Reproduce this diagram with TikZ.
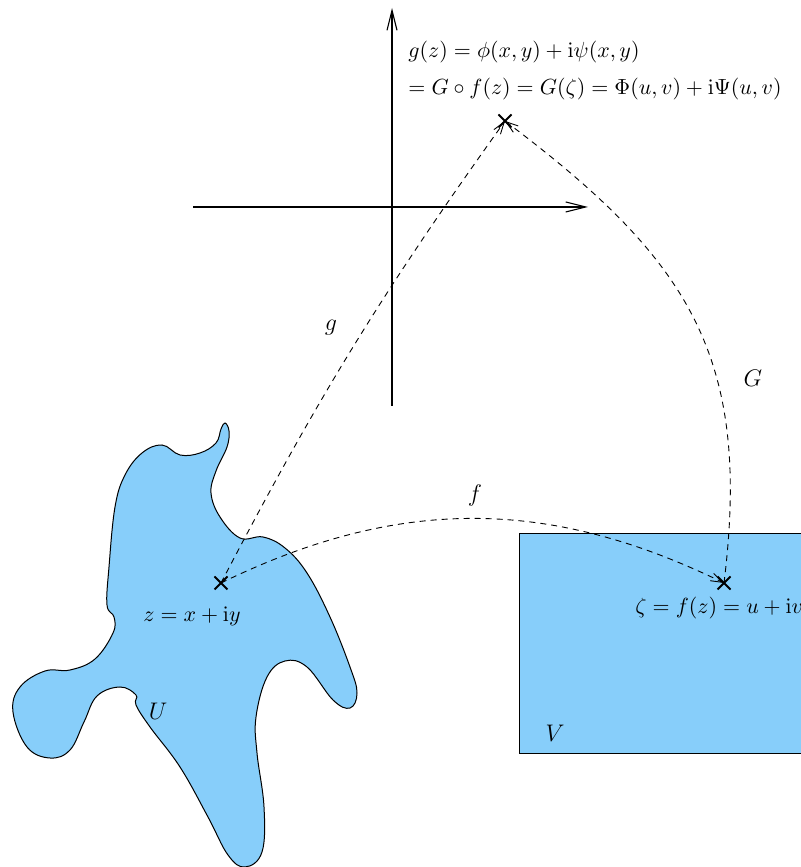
\documentclass[tikz,border=0pt]{standalone}
\usepackage{amsmath,amssymb}
\usepackage{tikz}
\usetikzlibrary{arrows.meta,positioning,shapes.misc}
\definecolor{domainblue}{RGB}{135,206,250}

\begin{document}
\begin{tikzpicture}[
  x=0.5pt, y=0.5pt,
  region/.style={draw=black, line width=0.5pt, fill=domainblue},
  axis/.style={line width=0.55pt, -{Straight Barb[length=10pt,width=5pt]}},
  map/.style={dash pattern=on 3pt off 2.5pt, line width=0.45pt, -{Straight Barb[length=6pt,width=4pt]}},
  pt/.style={cross out, draw, line width=1pt, minimum size=5.5pt, inner sep=0pt},
  lbl/.style={font=\fontsize{12.5}{14}\selectfont, inner sep=0pt},
  eqtext/.style={font=\fontsize{11}{13}\selectfont, inner sep=0pt, anchor=base west}
]
\clip (0,0) rectangle (801,867);
\draw[region] plot[smooth cycle, tension=0.65] coordinates {
  (225,444) (229,436) (227,420) (216,396) (211,374) (220,350) (240,329) (263,330)
  (285,319) (307,294) (330,250) (350,200) (357,174) (350,159) (333,167) (307,200)
  (285,206) (267,190) (256,150) (257,114) (264,60) (262,15) (245,0) (228,12)
  (208,50) (180,100) (150,140) (136,162) (136,172) (120,180) (97,171) (84,145)
  (70,117) (50,109) (27,120) (13,155) (20,180) (45,196) (70,197) (95,208)
  (113,234) (114,250) (107,262) (109,300) (115,360) (125,392) (142,414) (162,422)
  (180,412) (200,414) (216,424) (221,438)};
\draw[region] (519,113) rectangle (830,333);

\coordinate (xl) at (193,660);
\coordinate (xr) at (588,660);
\coordinate (yb) at (392,461);
\coordinate (yt) at (392,859);
\draw[axis] (xl) -- (xr);
\draw[axis] (yb) -- (yt);

\node[pt] (z) at (221,284) {};
\node[pt] (zeta) at (724,284) {};
\node[pt] (w) at (505,746) {};

\draw[map] (z.center) to[bend left=4] (w.center);
\draw[map] (z.center) to[bend left=26] (zeta.center);
\draw[map] (zeta.center) to[out=83, in=-37, looseness=1.15] (w.center);

\node[eqtext] (eqa) at (408,809) {$g(z)=\phi(x,y)+\mathrm{i}\psi(x,y)$};
\node[eqtext] (eqb) at (408,772) {$=G\circ f(z)=G(\zeta)=\Phi(u,v)+\mathrm{i}\Psi(u,v)$};
\node[eqtext, anchor=base] (zlbl) at (192,245) {$z=x+\mathrm{i}y$};
\node[eqtext] (zetalbl) at (635,253) {$\zeta=f(z)=u+\mathrm{i}v$};

\node[lbl] (glbl) at (331,539) {$g$};
\node[lbl] (flbl) at (475,371) {$f$};
\node[lbl, anchor=base] (Glbl) at (753,480) {$G$};
\node[lbl, anchor=base] (Ulbl) at (158,147) {$U$};
\node[lbl, anchor=base] (Vlbl) at (555,125) {$V$};
\end{tikzpicture}
\end{document}
